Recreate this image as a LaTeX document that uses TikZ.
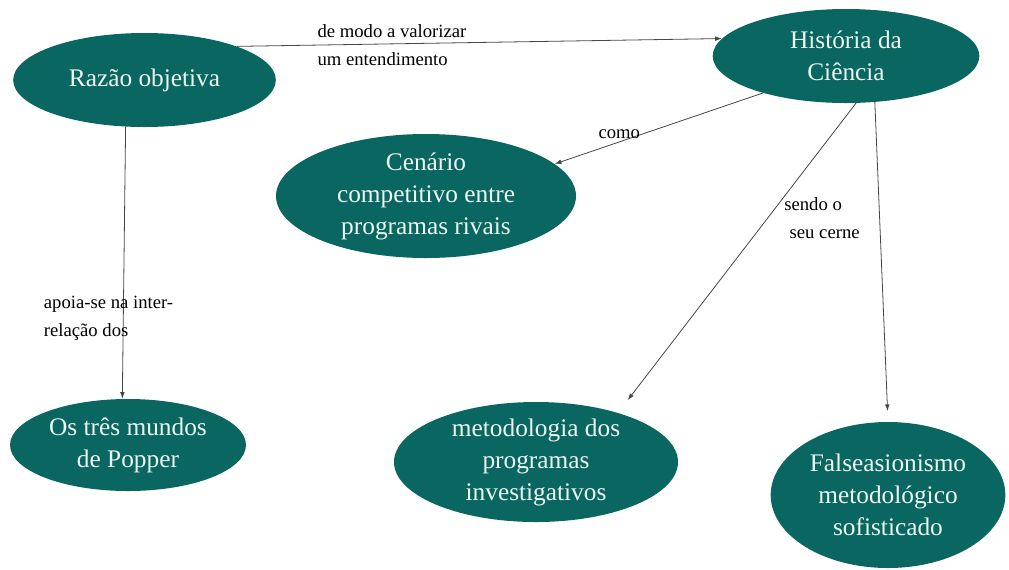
\documentclass[tikz,border=0pt]{standalone}
\usepackage{fontspec}
\setmainfont{Liberation Serif}
\usetikzlibrary{positioning}
\usetikzlibrary{shapes.geometric}
\usetikzlibrary{arrows.meta}
\definecolor{mapteal}{RGB}{10,102,96}
\definecolor{maptext}{RGB}{236,246,242}
\definecolor{mapline}{RGB}{70,70,70}

\begin{document}
\begin{tikzpicture}[
    x=0.75pt, y=-0.75pt,
    concept/.style={ellipse, fill=mapteal, text=maptext, align=center, inner xsep=-40pt, inner ysep=-10pt, font=\fontsize{19}{24}\selectfont},
    link/.style={draw=mapline, line width=0.6pt, -{Latex[length=5pt,width=3.5pt]}},
    linklabel/.style={font=\fontsize{14}{21}\selectfont, align=left, inner sep=2pt}
]
    \useasboundingbox (0,0) rectangle (1009,569);

    % Top row
    \node[concept, minimum width=197pt, minimum height=70.5pt] (razao) at (144.5,80) {Razão objetiva};
    \node[concept, minimum width=200pt, minimum height=70.5pt] (historia) at (846,56) {História da\\Ciência};

    % Middle
    \node[concept, minimum width=225pt, minimum height=93pt] (cenario) at (426,196) {Cenário\\competitivo entre\\programas rivais};

    % Bottom row
    \node[concept, minimum width=177pt, minimum height=69pt] (mundos) at (128,445) {Os três mundos\\de Popper};
    \node[concept, minimum width=213pt, minimum height=90pt] (metodologia) at (536,462) {metodologia dos\\programas\\investigativos};
    \node[concept, minimum width=176pt, minimum height=109.5pt] (falsea) at (888,495) {Falseasionismo\\metodológico\\sofisticado};

    % Razao to Historia
    \draw[link] (razao.20) -- node[linklabel, pos=0.16, anchor=west] (lblmodo) {de modo a valorizar\\um entendimento} (historia.172);

    % Historia to Cenario
    \draw[link] (historia.204) -- node[linklabel, pos=0.69, above] (lblcomo) {como} (cenario.14);

    % Historia to the two methods
    \draw[link, shorten >=12pt] (historia.282) -- node[linklabel, pos=0.37, anchor=west, xshift=10pt] (lblcerne) {sendo o\\\hspace*{4pt}seu cerne} (metodologia.31);
    \draw[link, shorten >=8pt] (historia.302) -- (falsea.north);

    % Razao to Popper
    \draw[link] (razao.248) -- (mundos.97);
    \node[linklabel, anchor=west] (lblapoia) at (41,318) {apoia-se na inter-\\relação dos};
\end{tikzpicture}
\end{document}
